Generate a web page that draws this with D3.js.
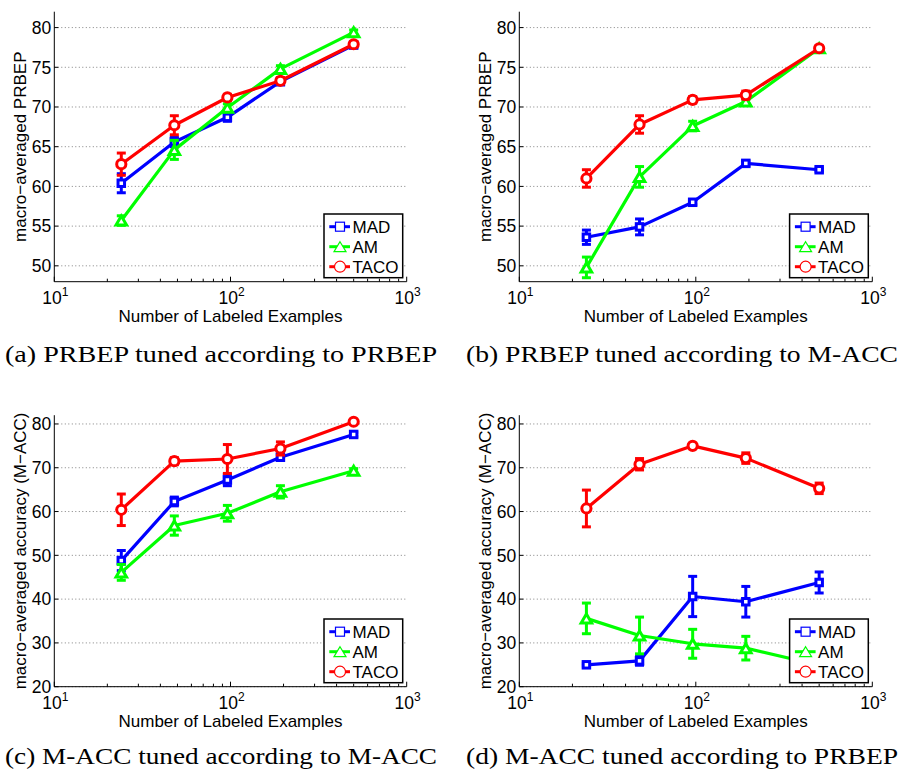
<!DOCTYPE html>
<html><head><meta charset="utf-8">
<script src="https://cdn.jsdelivr.net/npm/d3@7"></script>
<style>body{margin:0;background:#fff}</style>
</head><body>
<svg id="chart" width="901" height="771" xmlns="http://www.w3.org/2000/svg"></svg>
<script>
// ---------- data ----------
const xValues = [24, 48, 96, 192, 500];
const seriesNames = ["MAD", "AM", "TACO"];
const xTickExponents = [1, 2, 3];
const prbepTicks = [50, 55, 60, 65, 70, 75, 80];
const accTicks = [20, 30, 40, 50, 60, 70, 80];

// (a) PRBEP tuned according to PRBEP
const aMAD = [60.4, 65.6, 68.7, 73.2, 77.8];
const aMADErr = [1.2, 0.6, 0.5, 0.4, 0.3];
const aAM = [55.7, 64.6, 69.9, 74.8, 79.4];
const aAMErr = [0.6, 1.2, 0.5, 0.4, 0.3];
const aTACO = [62.8, 67.7, 71.2, 73.3, 77.9];
const aTACOErr = [1.4, 1.2, 0.4, 0.4, 0.3];

// (b) PRBEP tuned according to M-ACC
const bMAD = [53.6, 54.9, 58.0, 62.9, 62.1];
const bMADErr = [0.9, 1.0, 0.3, 0.3, 0.2];
const bAM = [49.8, 61.2, 67.6, 70.7, 77.4];
const bAMErr = [1.3, 1.3, 0.6, 0.3, 0.2];
const bTACO = [61.0, 67.8, 70.9, 71.5, 77.4];
const bTACOErr = [1.1, 1.1, 0.4, 0.5, 0.3];

// (c) M-ACC tuned according to M-ACC
const cMAD = [48.8, 62.3, 67.2, 72.4, 77.6];
const cMADErr = [2.3, 1.0, 1.3, 0.7, 0.5];
const cAM = [46.1, 56.8, 59.6, 64.5, 69.3];
const cAMErr = [1.8, 2.2, 1.8, 1.4, 0.5];
const cTACO = [60.4, 71.5, 72.0, 74.4, 80.5];
const cTACOErr = [3.6, 0.8, 3.3, 1.5, 0.3];

// (d) M-ACC tuned according to PRBEP
const dMAD = [25.0, 25.9, 40.6, 39.4, 43.8];
const dMADErr = [0.3, 1.0, 4.6, 3.5, 2.4];
const dAM = [35.6, 31.7, 29.8, 28.8, 24.9];
const dAMErr = [3.5, 4.2, 3.3, 2.7, 1.0];
const dTACO = [60.7, 70.8, 75.0, 72.2, 65.3];
const dTACOErr = [4.2, 1.3, 0.3, 1.2, 1.2];

const yLabelPRBEP = "macro\u2212averaged PRBEP";
const yLabelACC = "macro\u2212averaged accuracy (M\u2212ACC)";
const xLabel = "Number of Labeled Examples";
const captions = [
  "(a) PRBEP tuned according to PRBEP",
  "(b) PRBEP tuned according to M-ACC",
  "(c) M-ACC tuned according to M-ACC",
  "(d) M-ACC tuned according to PRBEP"
];

// ---------- style / layout ----------
const colors = {MAD: "#0000ff", AM: "#00ff00", TACO: "#ff0000"};
const sansFont = "'Liberation Sans', Arial, Helvetica, sans-serif";
const serifFont = "'Liberation Serif', 'Times New Roman', serif";

const panels = [
  {left: 54.3, right: 406.7, top: 11.7, bottom: 281.7, yDomain: [48, 82], ticks: prbepTicks, yLabel: yLabelPRBEP,
   data: {MAD: [aMAD, aMADErr], AM: [aAM, aAMErr], TACO: [aTACO, aTACOErr]}, caption: captions[0], capX: 5, capY: 362},
  {left: 519.3, right: 872.3, top: 11.7, bottom: 281.7, yDomain: [48, 82], ticks: prbepTicks, yLabel: yLabelPRBEP,
   data: {MAD: [bMAD, bMADErr], AM: [bAM, bAMErr], TACO: [bTACO, bTACOErr]}, caption: captions[1], capX: 466, capY: 362},
  {left: 54.3, right: 406.7, top: 415.2, bottom: 686.7, yDomain: [20, 82], ticks: accTicks, yLabel: yLabelACC,
   data: {MAD: [cMAD, cMADErr], AM: [cAM, cAMErr], TACO: [cTACO, cTACOErr]}, caption: captions[2], capX: 5, capY: 764},
  {left: 519.3, right: 872.3, top: 415.2, bottom: 686.7, yDomain: [20, 82], ticks: accTicks, yLabel: yLabelACC,
   data: {MAD: [dMAD, dMADErr], AM: [dAM, dAMErr], TACO: [dTACO, dTACOErr]}, caption: captions[3], capX: 466, capY: 764}
];

const svg = d3.select("#chart");

function drawMarker(g, name, cx, cy, legend) {
  const col = colors[name];
  const sw = legend ? 1.2 : 3;
  if (name === "MAD") {
    const s = legend ? 9 : 6.5;
    g.append("rect").attr("x", cx - s/2).attr("y", cy - s/2).attr("width", s).attr("height", s)
      .attr("fill", "#fff").attr("stroke", col).attr("stroke-width", sw);
  } else if (name === "AM") {
    const w = legend ? 12 : 10.5, h = legend ? 10 : 9;
    g.append("path").attr("d", `M${cx},${cy - h/2}L${cx + w/2},${cy + h/2}L${cx - w/2},${cy + h/2}Z`)
      .attr("fill", "#fff").attr("stroke", col).attr("stroke-width", sw).attr("stroke-linejoin", "miter");
  } else {
    const r = legend ? 5.5 : 4.6;
    g.append("circle").attr("cx", cx).attr("cy", cy).attr("r", r)
      .attr("fill", "#fff").attr("stroke", col).attr("stroke-width", sw);
  }
}

panels.forEach(p => {
  const x = d3.scaleLog().domain([10, 1000]).range([p.left, p.right]);
  const y = d3.scaleLinear().domain(p.yDomain).range([p.bottom, p.top]);
  const g = svg.append("g");

  // grid lines
  g.selectAll(".grid").data(p.ticks).enter().append("line")
    .attr("x1", p.left).attr("x2", p.right)
    .attr("y1", d => y(d)).attr("y2", d => y(d))
    .attr("stroke", "#808080").attr("stroke-width", 1).attr("stroke-dasharray", "1,2.5");

  // y axis
  g.append("line").attr("x1", p.left).attr("x2", p.left).attr("y1", p.top).attr("y2", p.bottom)
    .attr("stroke", "#000").attr("stroke-width", 1);
  g.selectAll(".yt").data(p.ticks).enter().append("line")
    .attr("x1", p.left).attr("x2", p.left + 4)
    .attr("y1", d => y(d)).attr("y2", d => y(d)).attr("stroke", "#000");
  g.selectAll(".ytl").data(p.ticks).enter().append("text")
    .attr("x", p.left - 3).attr("y", d => y(d)).attr("dy", "0.36em")
    .attr("text-anchor", "end").attr("font-family", sansFont).attr("font-size", 17.5)
    .text(d => d);

  // x axis
  g.append("line").attr("x1", p.left).attr("x2", p.right).attr("y1", p.bottom).attr("y2", p.bottom)
    .attr("stroke", "#000").attr("stroke-width", 1);
  const minor = [];
  [10, 100].forEach(b => { for (let k = 2; k <= 9; k++) minor.push(b * k); });
  g.selectAll(".xmt").data(minor).enter().append("line")
    .attr("x1", d => x(d)).attr("x2", d => x(d)).attr("y1", p.bottom).attr("y2", p.bottom - 3)
    .attr("stroke", "#000");
  g.selectAll(".xt").data(xTickExponents).enter().append("line")
    .attr("x1", d => x(Math.pow(10, d))).attr("x2", d => x(Math.pow(10, d)))
    .attr("y1", p.bottom).attr("y2", p.bottom - 5).attr("stroke", "#000");
  const xtl = g.selectAll(".xtl").data(xTickExponents).enter().append("text")
    .attr("x", d => x(Math.pow(10, d)) + 1).attr("y", p.bottom + 22)
    .attr("text-anchor", "middle").attr("font-family", sansFont).attr("font-size", 17.5);
  xtl.append("tspan").text("10");
  xtl.append("tspan").attr("dy", -8).attr("font-size", 12).text(d => d);

  // axis labels
  g.append("text").attr("x", (p.left + p.right) / 2).attr("y", p.bottom + 40)
    .attr("text-anchor", "middle").attr("font-family", sansFont).attr("font-size", 17)
    .text(xLabel);
  g.append("text").attr("transform", `translate(${p.left - 28.5},${(p.top + p.bottom) / 2}) rotate(-90)`)
    .attr("text-anchor", "middle").attr("font-family", sansFont).attr("font-size", 17)
    .text(p.yLabel);

  // series
  seriesNames.forEach(name => {
    const [vals, errs] = p.data[name];
    const col = colors[name];
    const pts = xValues.map((xv, i) => ({x: xv, v: vals[i], e: errs[i]}));
    const sg = g.append("g");
    // error bars
    pts.forEach(d => {
      const cx = x(d.x), y1 = y(d.v + d.e), y2 = y(d.v - d.e);
      sg.append("line").attr("x1", cx).attr("x2", cx).attr("y1", y1).attr("y2", y2)
        .attr("stroke", col).attr("stroke-width", 3);
      [y1, y2].forEach(yy => sg.append("line").attr("x1", cx - 4.5).attr("x2", cx + 4.5)
        .attr("y1", yy).attr("y2", yy).attr("stroke", col).attr("stroke-width", 3));
    });
    sg.append("path").datum(pts)
      .attr("d", d3.line().x(d => x(d.x)).y(d => y(d.v)))
      .attr("fill", "none").attr("stroke", col).attr("stroke-width", 3.2).attr("stroke-linejoin", "round");
    pts.forEach(d => drawMarker(sg, name, x(d.x), y(d.v), false));
  });

  // legend
  const lw = 78.7, lh = 63.7;
  const lx = p.right - 4 - lw, ly = p.bottom - 4 - lh;
  const lg = g.append("g");
  lg.append("rect").attr("x", lx).attr("y", ly).attr("width", lw).attr("height", lh)
    .attr("fill", "#fff").attr("stroke", "#000").attr("stroke-width", 1.5);
  seriesNames.forEach((name, i) => {
    const yy = ly + 12.7 + i * 20;
    lg.append("line").attr("x1", lx + 5.3).attr("x2", lx + 26).attr("y1", yy).attr("y2", yy)
      .attr("stroke", colors[name]).attr("stroke-width", 3);
    drawMarker(lg, name, lx + 16, yy, true);
    lg.append("text").attr("x", lx + 28.5).attr("y", yy).attr("dy", "0.36em")
      .attr("font-family", sansFont).attr("font-size", 17).text(name);
  });

  // caption
  svg.append("text").attr("x", p.capX).attr("y", p.capY)
    .attr("font-family", serifFont).attr("font-size", 24)
    .attr("textLength", 432).attr("lengthAdjust", "spacingAndGlyphs")
    .text(p.caption);
});
</script>
</body></html>
